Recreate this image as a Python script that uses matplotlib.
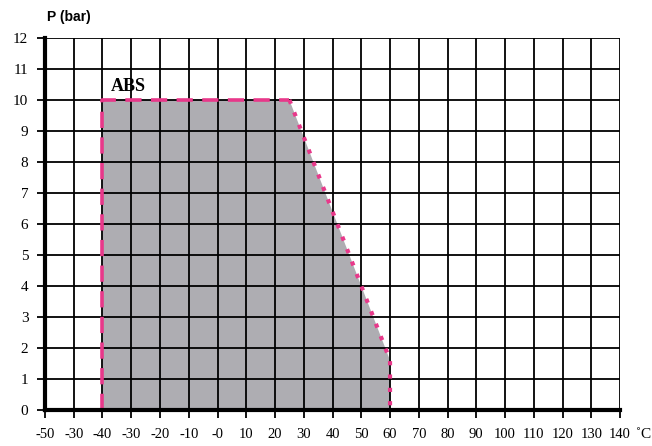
import matplotlib.pyplot as plt

# === Data ===
tick_pos = list(range(-60, 141, 10))
tick_labels = ["-50", "-30", "-40", "-30", "-20", "-10", "-0", "10", "20", "30",
               "40", "50", "60", "70", "80", "90", "100", "110", "120", "130", "140"]
y_ticks = list(range(0, 13))

# ABS working envelope (temperature, pressure)
env_t = [-40, -40, 25, 60, 60]
env_p = [0, 10, 10, 1.6, 0]

grey = "#AEADB2"
magenta = "#E8388A"

fig = plt.figure(figsize=(6.52, 4.46), dpi=100)
ax = fig.add_axes([0.069, 0.081, 0.882, 0.834])

ax.fill(env_t, env_p, color=grey, zorder=1, lw=0)

ax.set_xlim(-60, 140)
ax.set_ylim(0, 12)
ax.set_xticks(tick_pos)
ax.set_xticklabels(tick_labels, family="Liberation Serif", fontsize=10.5)
ax.set_yticks(y_ticks)
ax.set_yticklabels([str(v) for v in y_ticks], family="Liberation Serif", fontsize=11)

ax.grid(True, color="black", lw=1.3, zorder=2)
ax.set_axisbelow(False)

# envelope outline
ax.plot(env_t[:3], env_p[:3], color=magenta, lw=2.6, ls=(0, (4.5, 2.6)), zorder=4)
ax.plot(env_t[2:], env_p[2:], color=magenta, lw=3, ls=(0, (1, 2.2)), zorder=4)

for side in ["top", "right"]:
    ax.spines[side].set_visible(False)
ax.spines["left"].set_linewidth(3)
ax.spines["bottom"].set_linewidth(3)
ax.spines["left"].set_zorder(5)
ax.spines["bottom"].set_zorder(5)
ax.tick_params(axis="both", direction="out", length=6, width=1.3, color="black", pad=7)
ax.tick_params(axis="y", pad=6)

ax.text(-37, 10.3, "ABS", family="Liberation Serif", fontweight="bold", fontsize=13, zorder=6)
fig.text(0.072, 0.962, "P (bar)", fontweight="bold", fontsize=10, family="Liberation Sans",
         ha="left", va="center")
fig.text(0.975, 0.026, "\u02daC", family="Liberation Serif", fontsize=11, ha="left", va="center")

fig.savefig("out.png", dpi=100)
